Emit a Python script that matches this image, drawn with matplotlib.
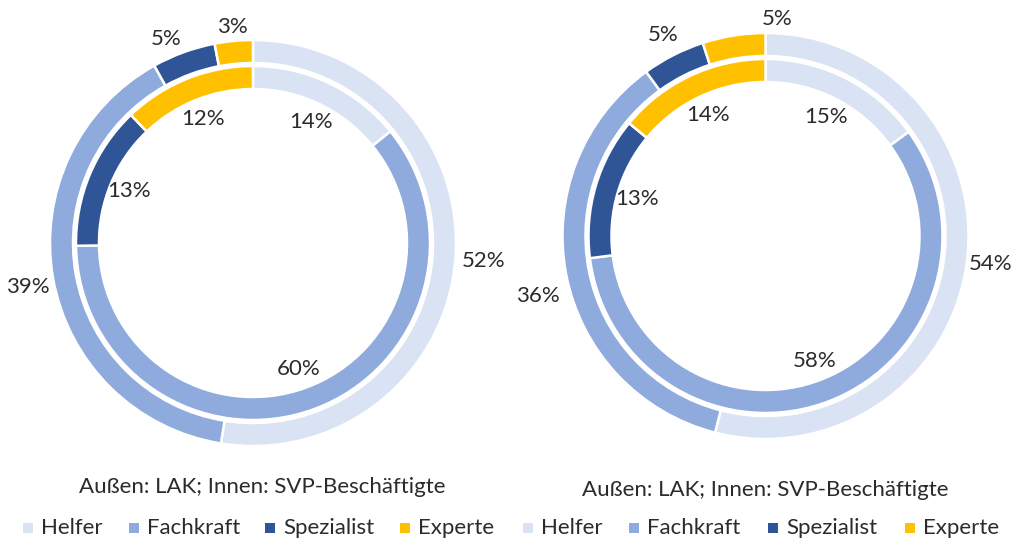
import numpy as np
import matplotlib
matplotlib.use("Agg")
import matplotlib.pyplot as plt
from matplotlib.patches import Rectangle

plt.rcParams['font.family'] = ['Lato', 'DejaVu Sans']

categories = ["Helfer", "Fachkraft", "Spezialist", "Experte"]
colors = ["#DAE3F3", "#8FAADC", "#2F5597", "#FFC000"]

left_outer = [52, 39, 5, 3]     # Außen: LAK
left_inner = [14, 60, 13, 12]   # Innen: SVP-Beschäftigte
right_outer = [54, 36, 5, 5]
right_inner = [15, 58, 13, 14]

caption = "Außen: LAK; Innen: SVP-Beschäftigte"
text_color = "#2b2b2b"
FS = 16

W, H = 1018, 541
fig = plt.figure(figsize=(W / 100, H / 100), dpi=100)

R = 203.0
ring_w = 23.0 / R
inner_r = 177.0 / R


def donut(cx, cy, outer, inner, outer_lr, outer_shift, inner_lr=0.66):
    ax = fig.add_axes([(cx - R) / W, (H - cy - R) / H, 2 * R / W, 2 * R / H])
    wprops = dict(width=ring_w, edgecolor="white", linewidth=1.8)
    ax.pie(outer, radius=1.0, colors=colors, startangle=90, counterclock=False,
           wedgeprops=wprops)
    ax.pie(inner, radius=inner_r, colors=colors, startangle=90, counterclock=False,
           wedgeprops=wprops)
    ax.set_xlim(-1, 1)
    ax.set_ylim(-1, 1)
    ax.set_aspect("equal")
    ax.axis("off")
    for vals, lrs, shifts in ((outer, outer_lr, outer_shift),
                              (inner, [inner_lr] * len(inner), [0] * len(inner))):
        tot = float(sum(vals))
        cum = 0.0
        for i, v in enumerate(vals):
            mid = (cum + v / 2) / tot * 2 * np.pi + np.deg2rad(shifts[i])
            cum += v
            r = lrs[i]
            x, y = r * np.sin(mid), r * np.cos(mid)
            ax.text(x, y, f"{v}%", ha="center", va="center", fontsize=FS,
                    color=text_color, clip_on=False)
    return ax


donut(253, 243, left_outer, left_inner, [1.14, 1.13, 1.09, 1.07], [0, -1, -3, 0])
donut(765.5, 236, right_outer, right_inner, [1.12, 1.16, 1.11, 1.07], [0, -4, 0, 12])

fig.text(262 / W, 1 - 487 / H, caption, ha="center", va="center",
         fontsize=FS, color=text_color)
fig.text(765 / W, 1 - 490 / H, caption, ha="center", va="center",
         fontsize=FS, color=text_color)

legend_marker_x = [[23, 129, 265, 400], [523, 629, 768, 905]]
ly = 528
ms = 10
for row in legend_marker_x:
    for cat, col, mx in zip(categories, colors, row):
        fig.patches.append(Rectangle((mx / W, (H - ly - ms / 2) / H), ms / W, ms / H,
                                     transform=fig.transFigure, facecolor=col,
                                     edgecolor="none"))
        fig.text((mx + ms + 8) / W, 1 - ly / H, cat, ha="left", va="center",
                 fontsize=FS, color=text_color)

fig.savefig("out.png", dpi=100, facecolor="white")
